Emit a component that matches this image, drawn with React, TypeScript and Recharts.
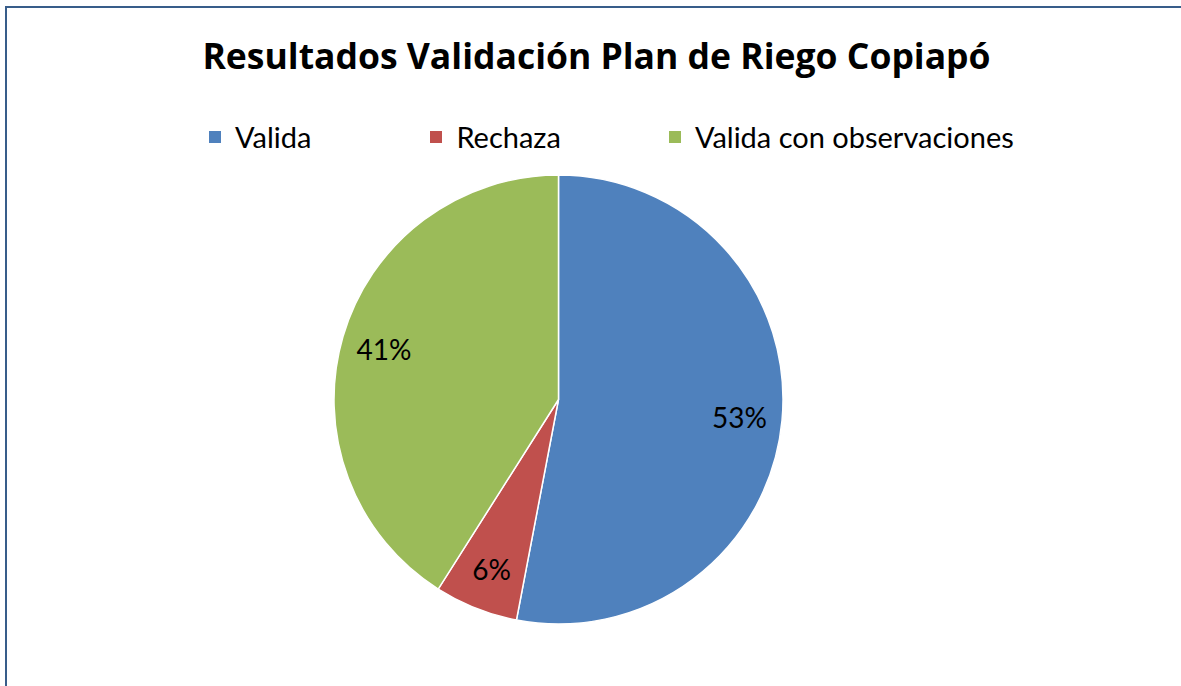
import React from "react";
import { PieChart, Pie, Cell } from "recharts";

const title = "Resultados Validación Plan de Riego Copiapó";
const categories = ["Valida", "Rechaza", "Valida con observaciones"];
const values = [53, 6, 41];
const colors = ["#4F81BD", "#C0504D", "#9BBB59"];
const legendGaps = [119, 108];

const data = categories.map((name, i) => ({ name, value: values[i] }));

const RADIAN = Math.PI / 180;
const FONT = "Lato, 'Open Sans', sans-serif";

const renderLabel = (props: any) => {
  const { cx, cy, midAngle, outerRadius, percent } = props;
  const r = outerRadius * 0.81;
  const x = cx + r * Math.cos(-midAngle * RADIAN);
  const y = cy + r * Math.sin(-midAngle * RADIAN);
  return (
    <text
      x={x}
      y={y}
      fill="#000"
      textAnchor="middle"
      dominantBaseline="central"
      style={{ fontFamily: FONT, fontSize: 28 }}
    >
      {`${Math.round(percent * 100)}%`}
    </text>
  );
};

export default function App() {
  return (
    <div
      style={{
        position: "absolute",
        left: 0,
        top: 0,
        width: 1181,
        height: 686,
        overflow: "hidden",
        background: "#fff",
        fontFamily: FONT,
      }}
    >
      <div
        style={{
          position: "absolute",
          left: 5,
          top: 6,
          width: 1300,
          height: 800,
          borderLeft: "2px solid #385D8A",
          borderTop: "2px solid #385D8A",
          boxSizing: "border-box",
        }}
      />
      <div
        style={{
          position: "absolute",
          left: 0,
          top: 35,
          width: 1193,
          textAlign: "center",
          fontFamily: "'Open Sans', sans-serif",
          fontSize: 35.5,
          fontWeight: 700,
          lineHeight: "40px",
          color: "#000",
        }}
      >
        {title}
      </div>
      <div
        style={{
          position: "absolute",
          left: 209,
          top: 118,
          display: "flex",
          alignItems: "center",
          height: 38,
        }}
      >
        {categories.map((c, i) => (
          <div
            key={c}
            style={{
              display: "flex",
              alignItems: "center",
              marginRight: i < legendGaps.length ? legendGaps[i] : 0,
            }}
          >
            <div
              style={{
                width: 12,
                height: 12,
                background: colors[i],
                marginRight: 14,
              }}
            />
            <span style={{ fontSize: 29, lineHeight: "38px", color: "#000" }}>
              {c}
            </span>
          </div>
        ))}
      </div>
      <div style={{ position: "absolute", left: 0, top: 0 }}>
        <PieChart width={1181} height={686}>
          <Pie
            data={data}
            dataKey="value"
            nameKey="name"
            cx={553.5}
            cy={394.5}
            outerRadius={224.5}
            startAngle={90}
            endAngle={-270}
            stroke="#fff"
            strokeWidth={1.5}
            label={renderLabel}
            labelLine={false}
            isAnimationActive={false}
          >
            {data.map((d, i) => (
              <Cell key={d.name} fill={colors[i]} />
            ))}
          </Pie>
        </PieChart>
      </div>
    </div>
  );
}
